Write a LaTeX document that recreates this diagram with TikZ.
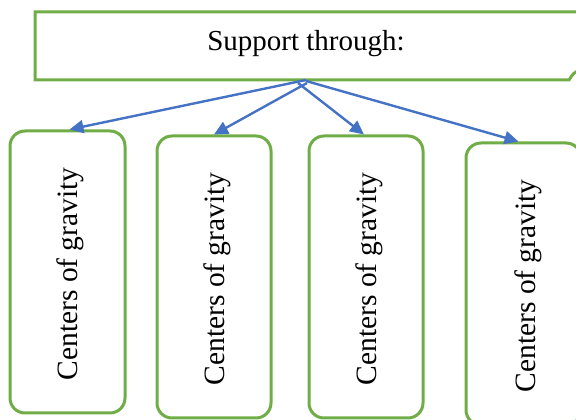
\documentclass[tikz,border=0pt]{standalone}
\usepackage{fontspec}
\setmainfont{Liberation Serif}
\usetikzlibrary{arrows.meta}
\definecolor{frame}{HTML}{70AD47}
\definecolor{link}{HTML}{4472C4}
\tikzset{
  x=1pt, y=1pt,
  pillar/.style={draw=frame, line width=3pt, rounded corners=15pt, fill=white,
    minimum width=114pt, minimum height=282pt, inner sep=0pt},
  pillartext/.style={rotate=90, font=\fontsize{29.5}{31}\selectfont, inner sep=0pt},
  link/.style={draw=link, line width=2.4pt, -{Triangle[length=14pt,width=13pt]}}
}
\begin{document}
\begin{tikzpicture}
\useasboundingbox (0,0) rectangle (576,420);
\begin{scope}
\clip (0,0) rectangle (576,420);
% header banner with the folded corner at its lower right
\draw[frame, line width=3pt, line join=miter]
  (590,408) -- (35,408) -- (35,340) -- (569,340)
  .. controls (571,342) and (571,346) .. (578,349);
\node[font=\fontsize{29}{31}\selectfont] (head) at (306,376) {Support through:};
% anchor points on the banner's lower edge
\coordinate (s1) at (306,340);
\coordinate (s2) at (307,337);
\coordinate (s3) at (298,337);
\coordinate (s4) at (306,339);
% the four pillars
\node[pillar, minimum width=115pt] (b1) at (67.5,148) {};
\node[pillar] (b2) at (214,143) {};
\node[pillar] (b3) at (366,143) {};
\node[pillar, minimum width=115pt] (b4) at (523.5,136) {};
\node[pillartext] (t1) at (70.5,146) {Centers of gravity};
\node[pillartext] (t2) at (217,141) {Centers of gravity};
\node[pillartext] (t3) at (369,141) {Centers of gravity};
\node[pillartext] (t4) at (528,134) {Centers of gravity};
% connectors
\draw[link] (s1) -- ([xshift=2pt]b1.north);
\draw[link] (s2) -- (b2.north);
\draw[link] (s3) -- ([xshift=-2pt]b3.north);
\draw[link] (s4) -- ([xshift=-5pt]b4.north);
\end{scope}
\end{tikzpicture}
\end{document}
